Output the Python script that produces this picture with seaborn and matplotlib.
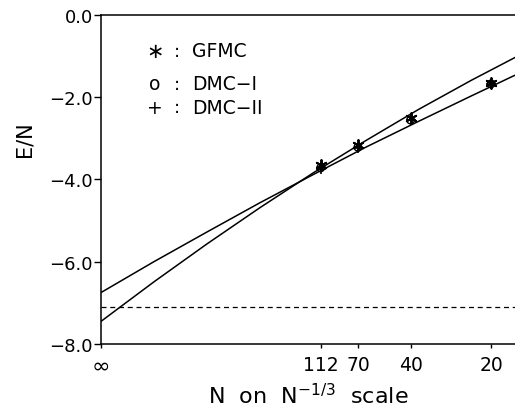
import numpy as np
import pandas as pd
import matplotlib
matplotlib.use("Agg")
import matplotlib.pyplot as plt
import seaborn as sns

# ---- data ----
N_values = [112, 70, 40, 20]
gfmc = [-3.65, -3.16, -2.52, -1.66]
dmc1 = [-3.72, -3.22, -2.56, -1.68]
dmc2 = [-3.74, -3.23, -2.55, -1.69]

# fitted curves, sampled along the N^{-1/3} axis
fit_x = [0.0, 0.05, 0.10, 0.15, 0.20, 0.25, 0.30, 0.35, 0.391]
fit_a = [-6.75, -6.00, -5.28, -4.57, -3.89, -3.22, -2.59, -1.97, -1.47]
fit_b = [-7.45, -6.49, -5.57, -4.69, -3.85, -3.06, -2.30, -1.59, -1.04]
bulk_value = -7.10

xtick_labels = ["∞", "112", "70", "40", "20"]
ytick_values = [0.0, -2.0, -4.0, -6.0, -8.0]
legend_labels = ["GFMC", "DMC\u2212I", "DMC\u2212II"]
legend_symbols = ["\u2217", "o", "+"]

sns.set_theme(style="ticks")
plt.rcParams["font.family"] = ["DejaVu Sans"]
plt.rcParams["mathtext.fontset"] = "dejavusans"

fig = plt.figure(figsize=(5.15, 4.10), dpi=100)
ax = fig.add_axes([101 / 515, 1 - 345 / 410, (515 - 101) / 515, (345 - 15.7) / 410])

xpts = [n ** (-1 / 3) for n in N_values]

df_fit = pd.DataFrame({"x": fit_x + fit_x,
                       "y": fit_a + fit_b,
                       "fit": ["A"] * len(fit_x) + ["B"] * len(fit_x)})
sns.lineplot(data=df_fit, x="x", y="y", units="fit", estimator=None,
             color="black", lw=1.1, ax=ax, sort=True)

ax.axhline(bulk_value, color="black", lw=0.9, ls=(0, (4, 3)))

sns.scatterplot(x=xpts, y=dmc1, marker="o", s=30, facecolor="none",
                edgecolor="black", linewidth=1.0, ax=ax)
sns.scatterplot(x=xpts, y=dmc2, marker="+", s=60, color="black",
                linewidth=1.2, ax=ax)
sns.scatterplot(x=xpts, y=gfmc, marker=(6, 2, 0), s=60, color="black",
                edgecolor="black", linewidth=1.4, ax=ax)

ax.set_xlim(0, 0.391)
ax.set_ylim(-8, 0)

ax.set_xticks([0.0] + xpts)
ax.set_xticklabels(xtick_labels)
ax.set_yticks(ytick_values)
ax.set_yticklabels([f"{v:.1f}".replace("-", "\u2212") for v in ytick_values])

ax.tick_params(axis="y", direction="out", length=5, width=1, pad=1,
               labelsize=13, colors="black")
ax.tick_params(axis="x", direction="out", length=3, width=1, pad=5,
               labelsize=13.5, colors="black")
inf_label = ax.get_xticklabels()[0]
inf_label.set_fontsize(16)

for s in ["left", "bottom", "top"]:
    ax.spines[s].set_color("black")
    ax.spines[s].set_linewidth(1.1)
ax.spines["right"].set_visible(False)

ax.set_xlabel("N  on  N$^{-1/3}$  scale", fontsize=16, color="black")
ax.xaxis.set_label_coords(0.5, -0.115)
ax.set_ylabel("E/N", fontsize=15, color="black")
ax.yaxis.set_label_coords(-0.16, 0.624)

rows_y = [0.891, 0.790, 0.719]
for sym, lab, yy in zip(legend_symbols, legend_labels, rows_y):
    ax.text(0.130, yy, sym, transform=ax.transAxes, ha="center", va="center",
            fontsize=15 if sym == "\u2217" else 13.5, color="black")
    ax.text(0.184, yy, ":", transform=ax.transAxes, ha="center", va="center",
            fontsize=13, color="black")
    ax.text(0.220, yy, lab, transform=ax.transAxes, ha="left", va="center",
            fontsize=13.5, color="black")

fig.savefig("out.png", dpi=100)
